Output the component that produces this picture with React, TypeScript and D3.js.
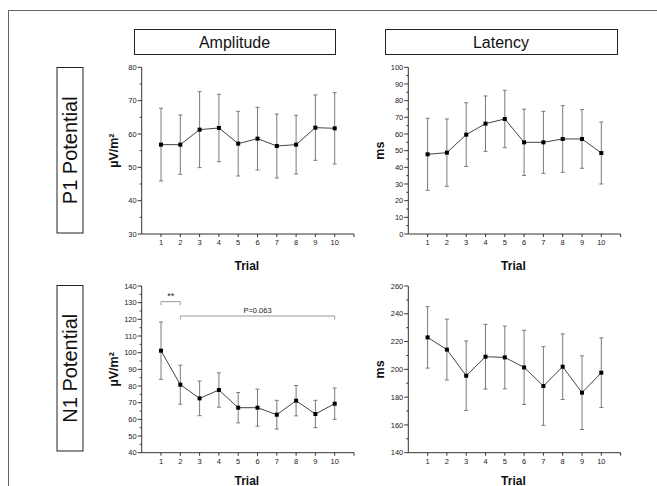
import * as d3 from 'd3';

// trials on the x axis
const trials = [1, 2, 3, 4, 5, 6, 7, 8, 9, 10];

// P1 amplitude (µV/m²)
const p1AmpMean = [56.8, 56.8, 61.3, 61.8, 57.1, 58.6, 56.4, 56.8, 61.9, 61.7];
const p1AmpSd = [10.9, 8.9, 11.4, 10.1, 9.7, 9.4, 9.6, 8.8, 9.8, 10.7];

// P1 latency (ms)
const p1LatMean = [47.8, 48.8, 59.6, 66.2, 69.0, 55.0, 55.0, 57.0, 57.0, 48.6];
const p1LatSd = [21.6, 20.2, 19.1, 16.6, 17.2, 19.9, 18.6, 20.0, 17.6, 18.6];

// N1 amplitude (µV/m²)
const n1AmpMean = [101.2, 80.8, 72.6, 77.6, 67.0, 67.0, 62.8, 71.2, 63.2, 69.4];
const n1AmpSd = [17.2, 11.7, 10.4, 10.3, 9.1, 11.1, 8.6, 9.1, 8.2, 9.4];

// N1 latency (ms)
const n1LatMean = [223.0, 214.2, 195.4, 209.1, 208.6, 201.4, 188.0, 201.9, 183.2, 197.6];
const n1LatSd = [22.1, 21.9, 25.0, 23.3, 22.6, 26.7, 28.3, 23.6, 26.5, 25.1];

const columnTitles = ['Amplitude', 'Latency'];
const rowTitles = ['P1 Potential', 'N1 Potential'];

// significance brackets on N1 amplitude: [from trial, to trial, level, label]
const brackets: [number, number, number, string][] = [
  [1, 2, 130.6, '**'],
  [2, 10, 122, 'P=0.063'],
];

const FONT = '"Liberation Sans", Arial, sans-serif';

type Panel = {
  mean: number[];
  sd: number[];
  domain: [number, number];
  major: number;
  minor: number;
  yLabel: string;
  col: number;
  row: number;
};

const panels: Panel[] = [
  { mean: p1AmpMean, sd: p1AmpSd, domain: [30, 80], major: 10, minor: 5, yLabel: 'µV/m²', col: 0, row: 0 },
  { mean: p1LatMean, sd: p1LatSd, domain: [0, 100], major: 10, minor: 5, yLabel: 'ms', col: 1, row: 0 },
  { mean: n1AmpMean, sd: n1AmpSd, domain: [40, 140], major: 10, minor: 5, yLabel: 'µV/m²', col: 0, row: 1 },
  { mean: n1LatMean, sd: n1LatSd, domain: [140, 260], major: 20, minor: 10, yLabel: 'ms', col: 1, row: 1 },
];

const colX = [141.7, 408.3];
const plotW = 212.3;
const rowY = [
  [67.3, 234],
  [286, 452.7],
];
const trialLabelY = [269.5, 484.5];

function PlotPanel({ p, annotate }: { p: Panel; annotate: boolean }) {
  const x0 = colX[p.col];
  const [top, bottom] = rowY[p.row];
  const x = d3.scaleLinear().domain([0, 11]).range([x0, x0 + plotW]);
  const y = d3.scaleLinear().domain(p.domain).range([bottom, top]);
  const majors = d3.range(p.domain[0], p.domain[1] + 0.001, p.major);
  const minors = d3.range(p.domain[0], p.domain[1] + 0.001, p.minor).filter((v) => (v - p.domain[0]) % p.major !== 0);
  const pts = trials.map((t, i) => ({ t, m: p.mean[i], s: p.sd[i] }));
  const line = d3
    .line<{ t: number; m: number }>()
    .x((d) => x(d.t))
    .y((d) => y(d.m));

  return (
    <g fontFamily={FONT}>
      {/* y axis */}
      <line x1={x0} x2={x0} y1={bottom} y2={top} stroke="#333" strokeWidth={1} />
      {majors.map((v) => (
        <g key={`M${v}`}>
          <line x1={x0 - 4} x2={x0} y1={y(v)} y2={y(v)} stroke="#333" />
          <text x={x0 - 5} y={y(v) + 2.6} textAnchor="end" fontSize={7.5} fill="#222">
            {v}
          </text>
        </g>
      ))}
      {minors.map((v) => (
        <line key={`m${v}`} x1={x0 - 2} x2={x0} y1={y(v)} y2={y(v)} stroke="#333" />
      ))}
      {/* x axis */}
      <line x1={x0} x2={x0 + plotW} y1={bottom} y2={bottom} stroke="#333" strokeWidth={1} />
      {[...trials, 11].map((t) => (
        <line key={`xt${t}`} x1={x(t)} x2={x(t)} y1={bottom} y2={bottom + 3} stroke="#333" />
      ))}
      {trials.map((t) => (
        <text key={`xl${t}`} x={x(t)} y={bottom + 11} textAnchor="middle" fontSize={7.5} fill="#222">
          {t}
        </text>
      ))}
      <text
        x={x0 + plotW / 2 - 1}
        y={trialLabelY[p.row]}
        textAnchor="middle"
        fontSize={12}
        fontWeight="bold"
        fill="#111"
      >
        Trial
      </text>
      <text
        transform={`translate(${x0 - 24},${(top + bottom) / 2}) rotate(-90)`}
        textAnchor="middle"
        fontSize={12.5}
        fontWeight="bold"
        fill="#111"
      >
        {p.yLabel}
      </text>

      {/* error bars */}
      {pts.map((d) => (
        <g key={`e${d.t}`} stroke="#7a7a7a" strokeWidth={1}>
          <line x1={x(d.t)} x2={x(d.t)} y1={y(d.m + d.s)} y2={y(d.m - d.s)} />
          <line x1={x(d.t) - 2} x2={x(d.t) + 2} y1={y(d.m + d.s)} y2={y(d.m + d.s)} />
          <line x1={x(d.t) - 2} x2={x(d.t) + 2} y1={y(d.m - d.s)} y2={y(d.m - d.s)} />
        </g>
      ))}
      <path d={line(pts) ?? ''} fill="none" stroke="#444" strokeWidth={1} />
      {pts.map((d) => (
        <rect key={`p${d.t}`} x={x(d.t) - 2} y={y(d.m) - 2} width={4} height={4} fill="#000" />
      ))}

      {annotate &&
        brackets.map(([a, b, lvl, label]) => (
          <g key={label}>
            <path
              d={`M${x(a)},${y(lvl) + 3.5}V${y(lvl)}H${x(b)}V${y(lvl) + 3.5}`}
              fill="none"
              stroke="#999"
              strokeWidth={1}
            />
            <text
              x={(x(a) + x(b)) / 2}
              y={y(lvl) - 3}
              textAnchor="middle"
              fontSize={label === '**' ? 9 : 7.5}
              fill="#222"
            >
              {label}
            </text>
          </g>
        ))}
    </g>
  );
}

export default function App() {
  const headerBoxes = [
    [134, 335],
    [385, 617],
  ];
  const sideBoxes = [
    [67.5, 233],
    [285.5, 451],
  ];
  return (
    <svg
      width={657}
      height={486}
      viewBox="0 0 657 486"
      style={{ position: 'absolute', left: 0, top: 0, background: '#fff' }}
    >
      <rect x={0} y={0} width={657} height={486} fill="#fff" />
      <rect x={8.5} y={10.5} width={700} height={600} fill="none" stroke="#666" strokeWidth={1} />
      {columnTitles.map((t, i) => (
        <g key={t}>
          <rect
            x={headerBoxes[i][0] + 0.5}
            y={29.5}
            width={headerBoxes[i][1] - headerBoxes[i][0]}
            height={25}
            fill="#fff"
            stroke="#222"
            strokeWidth={1}
          />
          <text
            x={(headerBoxes[i][0] + headerBoxes[i][1]) / 2}
            y={47.5}
            textAnchor="middle"
            fontFamily={FONT}
            fontSize={16}
            fill="#111"
          >
            {t}
          </text>
        </g>
      ))}
      {rowTitles.map((t, i) => (
        <g key={t}>
          <rect
            x={57}
            y={sideBoxes[i][0]}
            width={26}
            height={sideBoxes[i][1] - sideBoxes[i][0]}
            fill="#fff"
            stroke="#222"
            strokeWidth={1}
          />
          <text
            transform={`translate(76.8,${(sideBoxes[i][0] + sideBoxes[i][1]) / 2}) rotate(-90)`}
            textAnchor="middle"
            fontFamily={FONT}
            fontSize={20}
            fill="#111"
          >
            {t}
          </text>
        </g>
      ))}
      {panels.map((p, i) => (
        <PlotPanel key={i} p={p} annotate={p.col === 0 && p.row === 1} />
      ))}
    </svg>
  );
}
